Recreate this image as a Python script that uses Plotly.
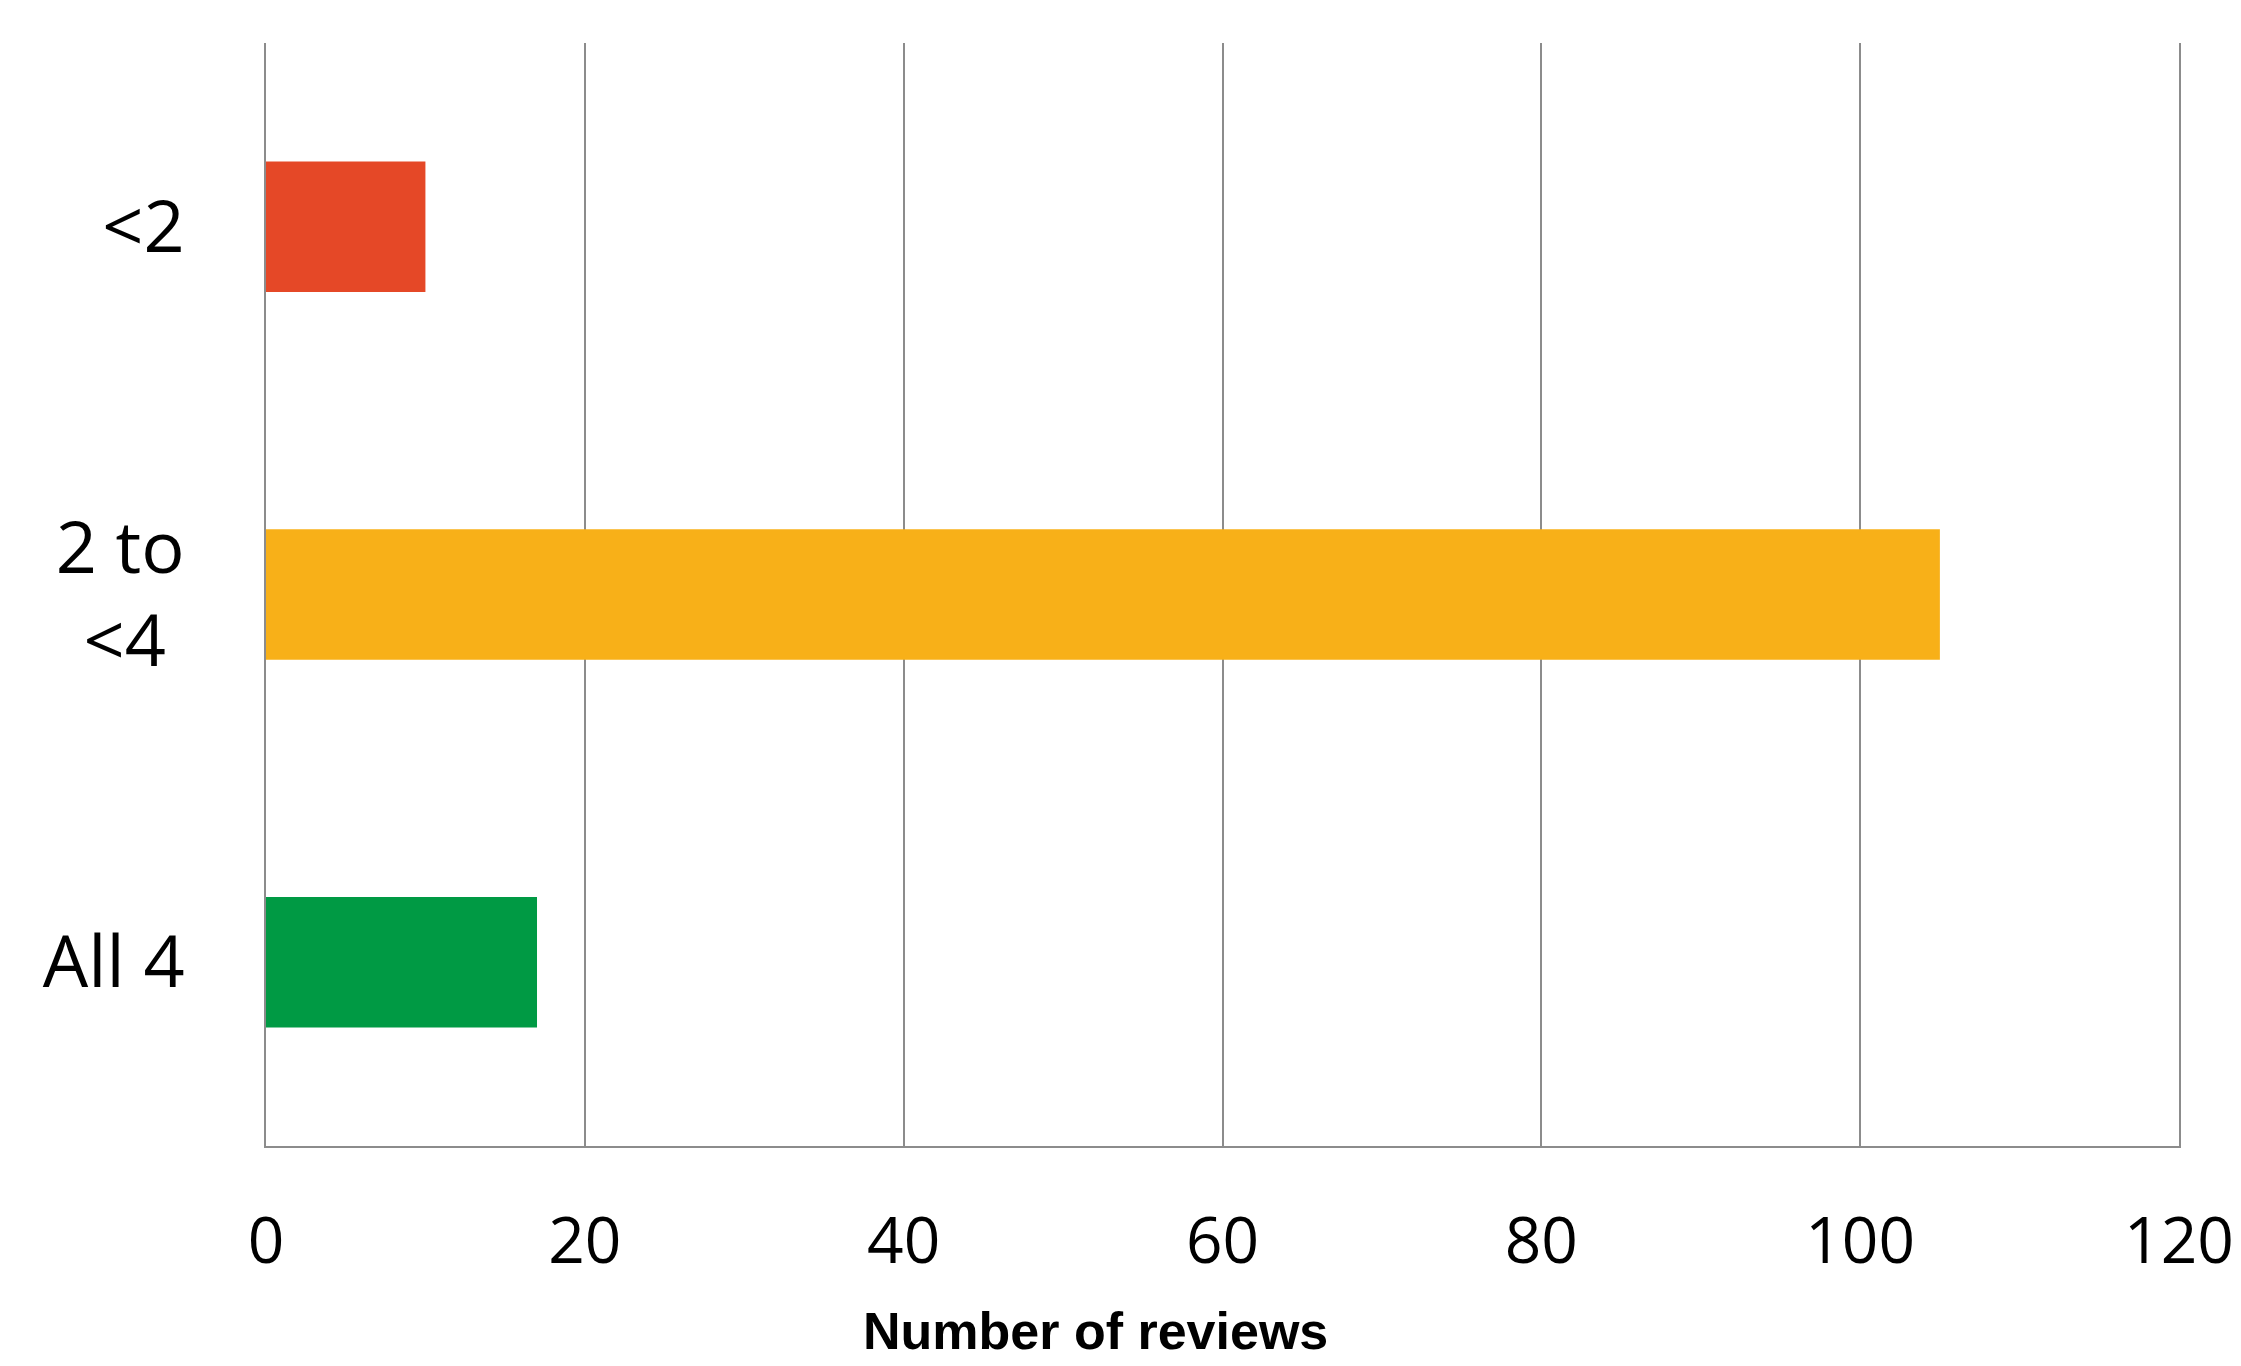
import plotly.graph_objects as go

categories = ["<2", "2 to <4", "All 4"]
tick_text = ["<2", "2 to<br><4\u00a0", "All 4"]
values = [10, 105, 17]
colors = ["#E54827", "#F8B018", "#009A44"]
x_ticks = [0, 20, 40, 60, 80, 100, 120]
x_title = "Number of reviews"

fig = go.Figure(
    go.Bar(
        y=categories,
        x=values,
        orientation="h",
        marker=dict(color=colors, line=dict(width=0)),
        width=0.355,
    )
)

fig.update_layout(
    width=2241,
    height=1366,
    margin=dict(l=266, r=62, t=43, b=220, autoexpand=False),
    paper_bgcolor="white",
    plot_bgcolor="white",
    showlegend=False,
    font=dict(family="Open Sans, Lato, Noto Sans, sans-serif", color="black"),
    annotations=[
        dict(
            text="<b>" + x_title + "</b>",
            xref="paper", yref="paper",
            x=(1095 - 266) / (2179 - 266), y=-0.168,
            xanchor="center", yanchor="middle",
            showarrow=False,
            font=dict(family="Liberation Sans, Arial, sans-serif", size=52, color="black"),
        )
    ],
)

fig.update_xaxes(
    range=[0, 120],
    tickvals=x_ticks,
    ticktext=[str(v) for v in x_ticks],
    showgrid=True,
    gridcolor="#8C8C8C",
    gridwidth=1.5,
    zeroline=False,
    showline=True,
    linecolor="#8C8C8C",
    linewidth=2,
    ticks="",
    ticklabelstandoff=38,
    tickfont=dict(size=64),
    automargin=False,
)

fig.update_yaxes(
    categoryorder="array",
    categoryarray=categories,
    autorange="reversed",
    tickvals=categories,
    ticktext=tick_text,
    showgrid=False,
    zeroline=False,
    showline=True,
    mirror=True,
    linecolor="#8C8C8C",
    linewidth=2,
    ticks="",
    ticklabelstandoff=65,
    tickfont=dict(size=72),
    automargin=False,
)

fig.write_html("out.html")
